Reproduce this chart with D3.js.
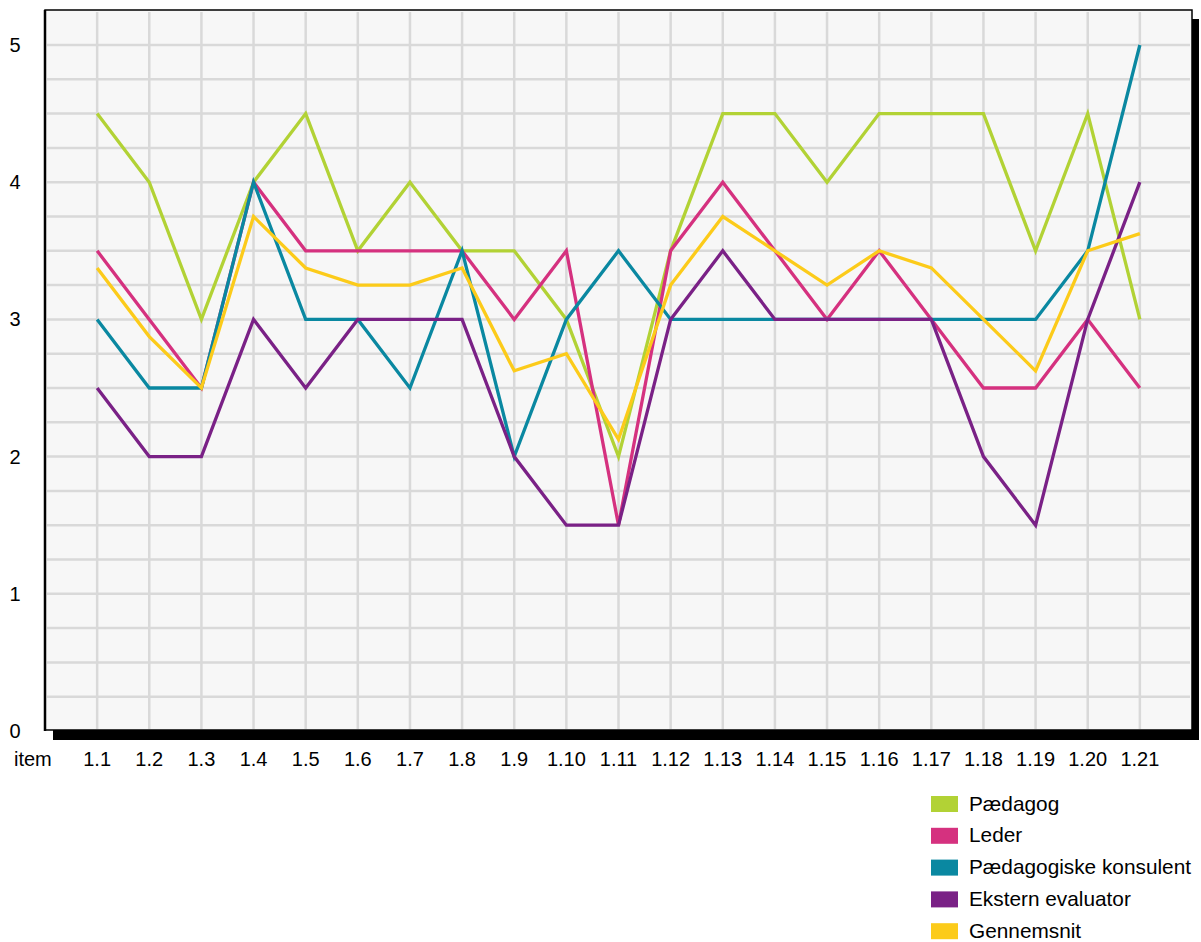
<!DOCTYPE html>
<html>
<head>
<meta charset="utf-8">
<script src="https://cdn.jsdelivr.net/npm/d3@7"></script>
<style>
html, body { margin: 0; padding: 0; background: #ffffff; }
svg { display: block; font-family: "Liberation Sans", Arial, sans-serif; }
</style>
</head>
<body>
<svg id="chart" width="1201" height="942"></svg>
<script>
const categories = ["1.1","1.2","1.3","1.4","1.5","1.6","1.7","1.8","1.9","1.10","1.11","1.12","1.13","1.14","1.15","1.16","1.17","1.18","1.19","1.20","1.21"];
const seriesNames = ["Pædagog","Leder","Pædagogiske konsulent","Ekstern evaluator","Gennemsnit"];
const paedagog   = [4.5,4,3,4,4.5,3.5,4,3.5,3.5,3,2,3.5,4.5,4.5,4,4.5,4.5,4.5,3.5,4.5,3];
const leder      = [3.5,3,2.5,4,3.5,3.5,3.5,3.5,3,3.5,1.5,3.5,4,3.5,3,3.5,3,2.5,2.5,3,2.5];
const konsulent  = [3,2.5,2.5,4,3,3,2.5,3.5,2,3,3.5,3,3,3,3,3,3,3,3,3.5,5];
const ekstern    = [2.5,2,2,3,2.5,3,3,3,2,1.5,1.5,3,3.5,3,3,3,3,2,1.5,3,4];
const gennemsnit = [3.375,2.875,2.5,3.75,3.375,3.25,3.25,3.375,2.625,2.75,2.125,3.25,3.75,3.5,3.25,3.5,3.375,3,2.625,3.5,3.625];
const yTickLabels = [0,1,2,3,4,5];
const colors = ["#b2d235","#d5317f","#0a88a1","#7a2186","#fccb1a"];

const seriesValues = [paedagog, leder, konsulent, ekstern, gennemsnit];

const svg = d3.select("#chart");
const L = 45, R = 1192, T = 10, B = 730;

const x = d3.scalePoint().domain(categories).range([L, R]).padding(1);
const y = d3.scaleLinear().domain([0, 5.25]).range([731, 10.7]);

// shadow
svg.append("rect").attr("x", 53).attr("y", 19).attr("width", 1199 - 53).attr("height", 740 - 19).attr("fill", "#000");
// plot background
svg.append("rect").attr("x", L).attr("y", T).attr("width", R - L).attr("height", B - T)
  .attr("fill", "#f7f7f7").attr("stroke", "#000").attr("stroke-width", 1.5);
svg.append("line").attr("x1", L).attr("x2", L).attr("y1", T).attr("y2", B + 1)
  .attr("stroke", "#000").attr("stroke-width", 2.5);

// grid
const grid = svg.append("g");
const hVals = d3.range(1, 21).map(i => i * 0.25);
grid.selectAll("line.h").data(hVals).enter().append("line")
  .attr("x1", L + 2).attr("x2", R - 2)
  .attr("y1", d => y(d)).attr("y2", d => y(d))
  .attr("stroke", "#d9d9d9").attr("stroke-width", 2.5);
grid.selectAll("line.v").data(categories).enter().append("line")
  .attr("x1", d => x(d)).attr("x2", d => x(d))
  .attr("y1", T + 2).attr("y2", B - 1)
  .attr("stroke", "#d9d9d9").attr("stroke-width", 2.5);

// lines
const line = d3.line().x((d, i) => x(categories[i])).y(d => y(d));
svg.append("g").selectAll("path").data(seriesValues).enter().append("path")
  .attr("d", d => line(d))
  .attr("fill", "none")
  .attr("stroke", (d, i) => colors[i])
  .attr("stroke-width", 3.3)
  .attr("stroke-linejoin", "miter");

// axis labels
const fs = 20;
svg.append("g").selectAll("text").data(yTickLabels).enter().append("text")
  .attr("x", 15).attr("y", d => y(d)).attr("dy", "0.35em")
  .attr("text-anchor", "middle").attr("font-size", fs).attr("fill", "#000")
  .text(d => d);
svg.append("g").selectAll("text").data(categories).enter().append("text")
  .attr("x", d => x(d)).attr("y", 766)
  .attr("text-anchor", "middle").attr("font-size", fs).attr("fill", "#000")
  .text(d => d);
svg.append("text").attr("x", 14).attr("y", 766).attr("font-size", fs).attr("fill", "#000").text("item");

// legend
const lg = svg.append("g");
seriesNames.forEach((name, i) => {
  const yy = 796 + i * 31.8;
  lg.append("rect").attr("x", 931).attr("y", yy).attr("width", 27).attr("height", 16).attr("fill", colors[i]);
  lg.append("text").attr("x", 969).attr("y", yy + 14.5).attr("font-size", 20.8).attr("fill", "#000").text(name);
});
</script>
</body>
</html>
